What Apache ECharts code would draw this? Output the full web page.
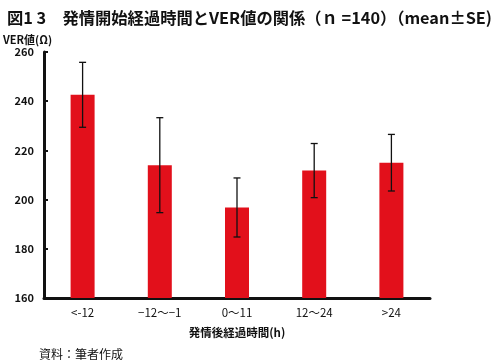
<!DOCTYPE html>
<html><head><meta charset="utf-8">
<script src="https://cdn.jsdelivr.net/npm/echarts@6/dist/echarts.min.js"></script>
<style>html,body{margin:0;padding:0;background:#fff}#c{width:500px;height:360px}</style>
</head><body><div id="c"></div>
<script>
const categories = ['<-12', '−12〜−1', '0〜11', '12〜24', '>24'];
const means = [242.6, 214.0, 196.8, 211.8, 215.0];
const errors = [13.2, 19.3, 12.0, 11.0, 11.5];
const yTicks = [160, 180, 200, 220, 240, 260];

const chart = echarts.init(document.getElementById('c'));
const font = '"Noto Sans CJK JP", sans-serif';
chart.setOption({
  animation: false,
  title: [
    {text: '図1 3　発情開始経過時間とVER値の関係（ｎ =140）（mean±SE)', left: 2, top: 5,
     textStyle: {fontFamily: font, fontSize: 16.3, fontWeight: 'bold', color: '#111'}},
    {text: '資料：筆者作成', left: 34, top: 343,
     textStyle: {fontFamily: font, fontSize: 12, fontWeight: 'normal', color: '#111'}}
  ],
  grid: {left: 40, right: 70, top: 52, bottom: 62},
  xAxis: {
    type: 'category', data: categories,
    name: '発情後経過時間(h)', nameLocation: 'middle', nameGap: 29,
    nameTextStyle: {fontFamily: font, fontSize: 11.5, fontWeight: 'bold', color: '#111'},
    axisLine: {lineStyle: {color: '#111', width: 3}},
    axisTick: {show: false},
    axisLabel: {fontFamily: font, fontSize: 11.5, color: '#111', margin: 9}
  },
  yAxis: {
    type: 'value', min: 160, max: 260, interval: 20,
    name: 'VER値(Ω)', nameLocation: 'end', nameGap: 7,
    nameTextStyle: {fontFamily: font, fontSize: 11, fontWeight: 'bold', color: '#111', align: 'left', padding: [0, 0, 0, -41]},
    axisLine: {show: true, lineStyle: {color: '#111', width: 3}},
    axisTick: {show: true, inside: true, length: 4, lineStyle: {color: '#111', width: 2}},
    splitLine: {show: false},
    axisLabel: {fontFamily: font, fontSize: 11, fontWeight: 'bold', color: '#111', margin: 10,
      formatter: v => yTicks.includes(v) ? String(v) : ''}
  },
  series: [
    {type: 'bar', data: means, barWidth: 24, itemStyle: {color: '#e2101b'}},
    {type: 'custom', data: means.map((m, i) => [i, m - errors[i], m + errors[i]]),
     z: 10,
     renderItem: function (params, api) {
       const x = api.value(0);
       const lo = api.coord([x, api.value(1)]);
       const hi = api.coord([x, api.value(2)]);
       const hw = 3.5;
       const st = {stroke: '#111', lineWidth: 1.3};
       return {type: 'group', children: [
         {type: 'line', shape: {x1: lo[0], y1: lo[1], x2: hi[0], y2: hi[1]}, style: st},
         {type: 'line', shape: {x1: hi[0] - hw, y1: hi[1], x2: hi[0] + hw, y2: hi[1]}, style: st},
         {type: 'line', shape: {x1: lo[0] - hw, y1: lo[1], x2: lo[0] + hw, y2: lo[1]}, style: st}
       ]};
     }}
  ]
});
</script></body></html>
